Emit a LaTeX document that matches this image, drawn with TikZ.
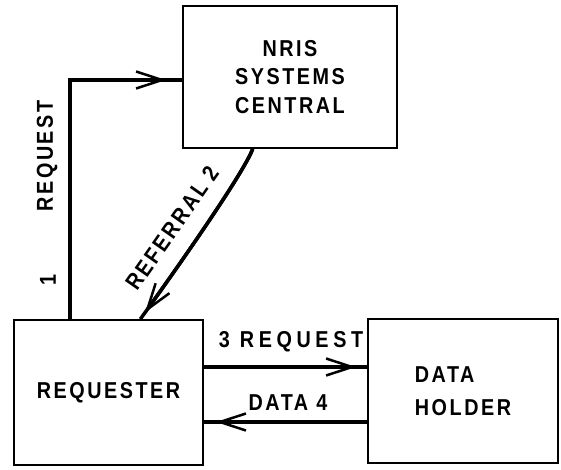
\documentclass[tikz,border=0pt]{standalone}
\usepackage{fontspec}
\setmainfont{Liberation Sans}[FakeStretch=0.86, LetterSpace=11]
\usetikzlibrary{arrows.meta,calc}
\tikzset{
  box/.style={draw, line width=1.8pt, rectangle, inner sep=0pt, font=\bfseries\fontsize{23}{28.5}\selectfont},
  conn/.style={line width=3.5pt},
  tipend/.style={-{Straight Barb[length=26pt,width=17pt,line width=2.5pt]}},
  lbl/.style={font=\bfseries\fontsize{23}{25}\selectfont, inner sep=0pt}
}
\begin{document}
\begin{tikzpicture}[x=1pt,y=-1pt]
\useasboundingbox (0,0) rectangle (561,470);
% boxes
\node[box, minimum width=214pt, minimum height=142pt, align=center] (nris) at (290,77) {NRIS\\SYSTEMS\\CENTRAL};
\node[box, minimum width=189pt, minimum height=145pt] (req) at (108.5,392.5) {REQUESTER};
\node[box, minimum width=190pt, minimum height=144pt, align=left, font=\bfseries\fontsize{23}{33}\selectfont] (dh) at (463,391) {DATA\\HOLDER};
% helper coordinates
\coordinate (c1) at (70,80);
\coordinate (y3) at (0,367);
\coordinate (y4) at (0,422);
\coordinate (r1) at ($(nris.south west)!0.327!(nris.south east)$);
\coordinate (r2) at ($(req.north west)!0.667!(req.north east)$);
% 1 request
\draw[conn, line join=miter] (req.north -| c1) -- (c1) -- (c1 -| nris.west);
\draw[conn, tipend, shorten >=16pt] (c1) -- (c1 -| nris.west);
% 2 referral
\draw[conn] (r1) .. controls (245,170) and (190,250) .. (r2);
\draw[conn, tipend, shorten >=8pt] (r1) .. controls (245,170) and (190,250) .. (r2);
% 3 request
\draw[conn] (req.east |- y3) -- (dh.west |- y3);
\draw[conn, tipend, shorten >=11pt] (req.east |- y3) -- (dh.west |- y3);
% 4 data
\draw[conn] (dh.west |- y4) -- (req.east |- y4);
\draw[conn, tipend, shorten >=12pt] (dh.west |- y4) -- (req.east |- y4);
% labels
\node[lbl] (l3) at (291,342) {\addfontfeatures{LetterSpace=20}3 REQUEST};
\node[lbl] (l4) at (288,403) {DATA 4};
\node[lbl, rotate=90] (l1) at (47,156) {REQUEST};
\node[lbl, rotate=90] (l1n) at (48,280) {1};
\node[lbl, rotate=55] (lr) at (172,228) {\addfontfeatures{LetterSpace=11}REFERRAL 2};
\end{tikzpicture}
\end{document}
